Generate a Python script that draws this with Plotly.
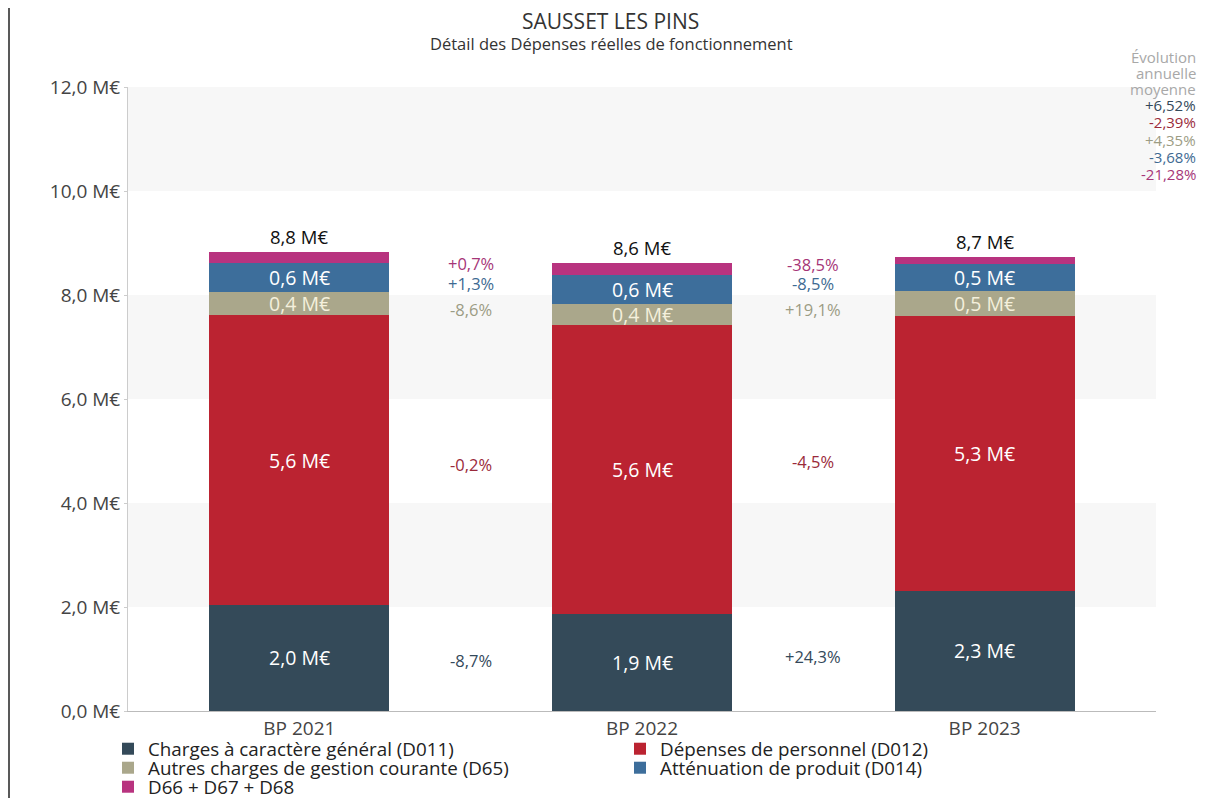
import plotly.graph_objects as go

years = ["BP 2021", "BP 2022", "BP 2023"]
series_names = [
    "Charges à caractère général (D011)",
    "Dépenses de personnel (D012)",
    "Autres charges de gestion courante (D65)",
    "Atténuation de produit (D014)",
    "D66 + D67 + D68",
]
d011 = [2.04, 1.86, 2.31]
d012 = [5.57, 5.56, 5.29]
d65 = [0.44, 0.40, 0.48]
d014 = [0.56, 0.57, 0.52]
d66 = [0.22, 0.22, 0.14]
series_values = [d011, d012, d65, d014, d66]
show_segment_label = [True, True, True, True, False]

evol_2021_2022 = ["-8,7%", "-0,2%", "-8,6%", "+1,3%", "+0,7%"]
evol_2022_2023 = ["+24,3%", "-4,5%", "+19,1%", "-8,5%", "-38,5%"]
evol_annual = ["+6,52%", "-2,39%", "+4,35%", "-3,68%", "-21,28%"]

y_tickvals = [0, 2, 4, 6, 8, 10, 12]
y_ticktext = ["0,0 M€", "2,0 M€", "4,0 M€", "6,0 M€", "8,0 M€", "10,0 M€", "12,0 M€"]

bar_colors = ["#344a59", "#bb2331", "#aaa78b", "#3d6e9b", "#b8337f"]
seg_text_colors = ["#ffffff", "#ffffff", "#f4f0dc", "#ffffff", "#ffffff"]
evol_colors = ["#34495a", "#9a2a3a", "#9c9c84", "#3e6a92", "#a63577"]
legend_ids = ["legend", "legend", "legend2", "legend2", "legend3"]

FONT = "Open Sans"

fig = go.Figure()
for name, vals, col, lg in zip(series_names, series_values, bar_colors, legend_ids):
    fig.add_trace(go.Bar(x=years, y=vals, name=name, marker=dict(color=col, line=dict(width=0)),
                         hoverinfo="skip", legend=lg))

annotations = []
cum = [0.0] * len(years)
mids = []
for si, vals in enumerate(series_values):
    m = []
    for i, v in enumerate(vals):
        mid = cum[i] + v / 2
        m.append(mid)
        if show_segment_label[si]:
            annotations.append(dict(x=i, y=mid, xref="x", yref="y", showarrow=False,
                                    xanchor="center", yanchor="middle",
                                    text=f"{v:.1f}".replace(".", ",") + " M€",
                                    font=dict(family=FONT, size=19.5, color=seg_text_colors[si])))
        cum[i] += v
    mids.append(m)

for i, tot in enumerate(cum):
    annotations.append(dict(x=i, y=tot, xref="x", yref="y", showarrow=False, xanchor="center",
                            yanchor="bottom", yshift=1,
                            text=f"{tot:.1f}".replace(".", ",") + " M€",
                            font=dict(family=FONT, size=18.5, color="#111111")))

for si in range(len(series_values)):
    for gap, labels in enumerate([evol_2021_2022, evol_2022_2023]):
        ymid = (mids[si][gap] + mids[si][gap + 1]) / 2
        annotations.append(dict(x=gap + 0.5, y=ymid, xref="x", yref="y", showarrow=False,
                                xanchor="center", yanchor="middle",
                                text=labels[si], font=dict(family=FONT, size=16.5, color=evol_colors[si])))

# page-pixel helpers (plot area spans page y 87..711, x 128..1156)
plot_top, plot_bottom = 87, 711
plot_left, plot_right = 128, 1156
def py(p):
    return (plot_bottom - p) / (plot_bottom - plot_top)
def px(p):
    return (p - plot_left) / (plot_right - plot_left)

for j, line in enumerate(["Évolution", "annuelle", "moyenne"]):
    annotations.append(dict(x=px(1198), xref="paper", xanchor="right", y=py(57 + 16 * j), yref="paper",
                            yanchor="middle", showarrow=False, text=line,
                            font=dict(family=FONT, size=15, color="#a8a8a8")))
for j, (t, c) in enumerate(zip(evol_annual, evol_colors)):
    annotations.append(dict(x=px(1198), xref="paper", xanchor="right", y=py(105 + 17.3 * j), yref="paper",
                            yanchor="middle", showarrow=False, text=t,
                            font=dict(family=FONT, size=15, color=c)))

annotations.append(dict(x=px(610), xref="paper", y=py(21), yref="paper", showarrow=False,
                        xanchor="center", yanchor="middle",
                        text="SAUSSET LES PINS", font=dict(family=FONT, size=21, color="#333333")))
annotations.append(dict(x=px(611), xref="paper", y=py(43), yref="paper", showarrow=False,
                        xanchor="center", yanchor="middle",
                        text="Détail des Dépenses réelles de fonctionnement",
                        font=dict(family=FONT, size=16.5, color="#333333")))

shapes = []
for y0, y1 in [(2, 4), (6, 8), (10, 12)]:
    shapes.append(dict(type="rect", xref="paper", yref="y", x0=0, x1=1, y0=y0, y1=y1,
                       fillcolor="#f7f7f7", line=dict(width=0), layer="below"))
shapes.append(dict(type="line", xref="paper", yref="paper", x0=px(9), x1=px(9),
                   y0=py(0), y1=py(800), line=dict(color="#222222", width=1.5)))

legend_common = dict(orientation="h", xanchor="left", yanchor="middle",
                     entrywidth=467, entrywidthmode="pixels", traceorder="normal",
                     font=dict(family=FONT, size=18.8, color="#222222"), itemwidth=30,
                     bgcolor="rgba(0,0,0,0)")
lx = px(108)

# the page has an 8px body margin: figure origin sits at page (8, 8)
fig.update_layout(
    width=1200, height=790,
    margin=dict(l=plot_left - 8, r=1200 - (plot_right - 8), t=plot_top - 8, b=790 - (plot_bottom - 8),
                autoexpand=False),
    barmode="stack", bargap=0.474,
    paper_bgcolor="white", plot_bgcolor="white",
    font=dict(family=FONT, size=17, color="#444444"),
    showlegend=True,
    legend=dict(x=lx, y=py(749), **legend_common),
    legend2=dict(x=lx, y=py(768), **legend_common),
    legend3=dict(x=lx, y=py(787), **legend_common),
    annotations=annotations, shapes=shapes,
)
fig.update_xaxes(range=[-0.5, 2.5], showline=True, linecolor="#bbbbbb", linewidth=1, ticks="",
                 tickfont=dict(family=FONT, size=19, color="#444444"), showgrid=False)
fig.update_yaxes(range=[0, 12], tickvals=y_tickvals, ticktext=y_ticktext, showgrid=False, zeroline=False,
                 showline=True, linecolor="#cccccc", linewidth=1, ticks="outside", ticklen=3, tickcolor="#cccccc",
                 tickfont=dict(family=FONT, size=19, color="#444444"))

fig.write_html("out.html")
